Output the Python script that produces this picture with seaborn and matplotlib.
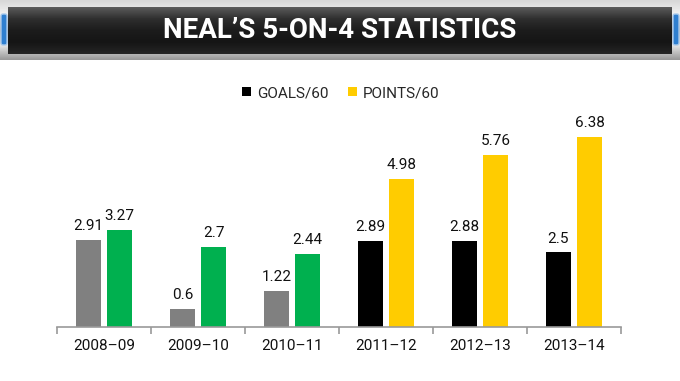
import matplotlib
matplotlib.use('Agg')
import matplotlib.pyplot as plt
from matplotlib.patches import Rectangle, FancyBboxPatch
from matplotlib.ticker import FixedLocator
import numpy as np
import pandas as pd
import seaborn as sns

# data
seasons = ['2008\u201309', '2009\u201310', '2010\u201311', '2011\u201312', '2012\u201313', '2013\u201314']
goals_per60 = [2.91, 0.6, 1.22, 2.89, 2.88, 2.5]
points_per60 = [3.27, 2.7, 2.44, 4.98, 5.76, 6.38]
metrics = ['GOALS/60', 'POINTS/60']

TITLE = 'NEAL\u2019S 5-ON-4 STATISTICS'
COLORS = {'GOALS/60': '#000000', 'POINTS/60': '#ffcc00'}
OLD_COLORS = {'GOALS/60': '#808080', 'POINTS/60': '#00b04f'}
N_OLD = 3  # first seasons drawn in gray/green

df = pd.DataFrame({
    'season': seasons * 2,
    'value': goals_per60 + points_per60,
    'metric': [metrics[0]] * len(seasons) + [metrics[1]] * len(seasons),
})

sns.set_theme(style='white')
plt.rcParams['font.family'] = ['Roboto', 'DejaVu Sans']

W, H = 680, 381
fig = plt.figure(figsize=(W / 100, H / 100), dpi=100)
fig.patch.set_facecolor('white')

# ---- title banner (pixel coords) ----
bn = fig.add_axes([0, 1 - 60 / H, 1, 60 / H])
bn.set_xlim(0, W)
bn.set_ylim(60, 0)
bn.axis('off')
silver = np.linspace(0, 1, 60).reshape(-1, 1)
bn.imshow(silver, extent=[0, W, 60, 0], cmap=matplotlib.colors.LinearSegmentedColormap.from_list(
    'silver', ['#d8d8d8', '#f4f4f4', '#b0b0b0', '#e8e8e8', '#9a9a9a']), aspect='auto', zorder=0)
dark = np.linspace(0, 1, 47).reshape(-1, 1)
bn.imshow(dark, extent=[8, W - 8, 54, 7], cmap=matplotlib.colors.LinearSegmentedColormap.from_list(
    'dark', ['#5a5a5a', '#2e2e2e', '#1c1c1c', '#151515', '#252525']), aspect='auto', zorder=1)
for x0 in (0, W - 8):
    bn.add_patch(FancyBboxPatch((x0 + 1, 14), 6, 31, boxstyle='round,pad=0,rounding_size=2',
                                facecolor='#2f7fd0', edgecolor='#a8c8ea', lw=1, zorder=2))
bn.text(W / 2, 31, TITLE, color='white', fontsize=20, fontweight='bold',
        ha='center', va='center', zorder=3)

# ---- bar chart ----
ax = fig.add_axes([57 / W, (H - 327) / H, 564 / W, 217 / H])
sns.barplot(data=df, x='season', y='value', hue='metric', palette=COLORS,
            width=0.66, gap=0.19, ax=ax, legend=False, saturation=1)

for cont, metric in zip(ax.containers, metrics):
    for i, bar in enumerate(cont):
        if i < N_OLD:
            bar.set_facecolor(OLD_COLORS[metric])
        bar.set_edgecolor('none')
    vals = goals_per60 if metric == metrics[0] else points_per60
    ax.bar_label(cont, labels=[f'{v:g}' for v in vals], padding=5, fontsize=11, color='#111111')

ax.set_xlim(-0.5, len(seasons) - 0.5)
ax.set_ylim(0, 7.28)
ax.set_xlabel('')
ax.set_ylabel('')
ax.set_yticks([])
for side in ('top', 'right', 'left'):
    ax.spines[side].set_visible(False)
ax.spines['bottom'].set_color('#999999')
ax.spines['bottom'].set_linewidth(1.2)
ax.xaxis.set_minor_locator(FixedLocator(np.arange(-0.5, len(seasons), 1.0)))
ax.tick_params(axis='x', which='minor', bottom=True, length=5, width=1.2, color='#999999')
ax.tick_params(axis='x', which='major', bottom=False, length=0, pad=9, labelsize=11, labelcolor='#111111')

# legend
handles = [Rectangle((0, 0), 1, 1, facecolor=COLORS[m], edgecolor='none') for m in metrics]
fig.legend(handles, metrics, loc='center', bbox_to_anchor=(341 / W, 1 - 93 / H), ncol=2,
           frameon=False, fontsize=11, handlelength=0.55, handleheight=0.55,
           handletextpad=0.4, columnspacing=1.3)

fig.savefig('out.png', dpi=100)
